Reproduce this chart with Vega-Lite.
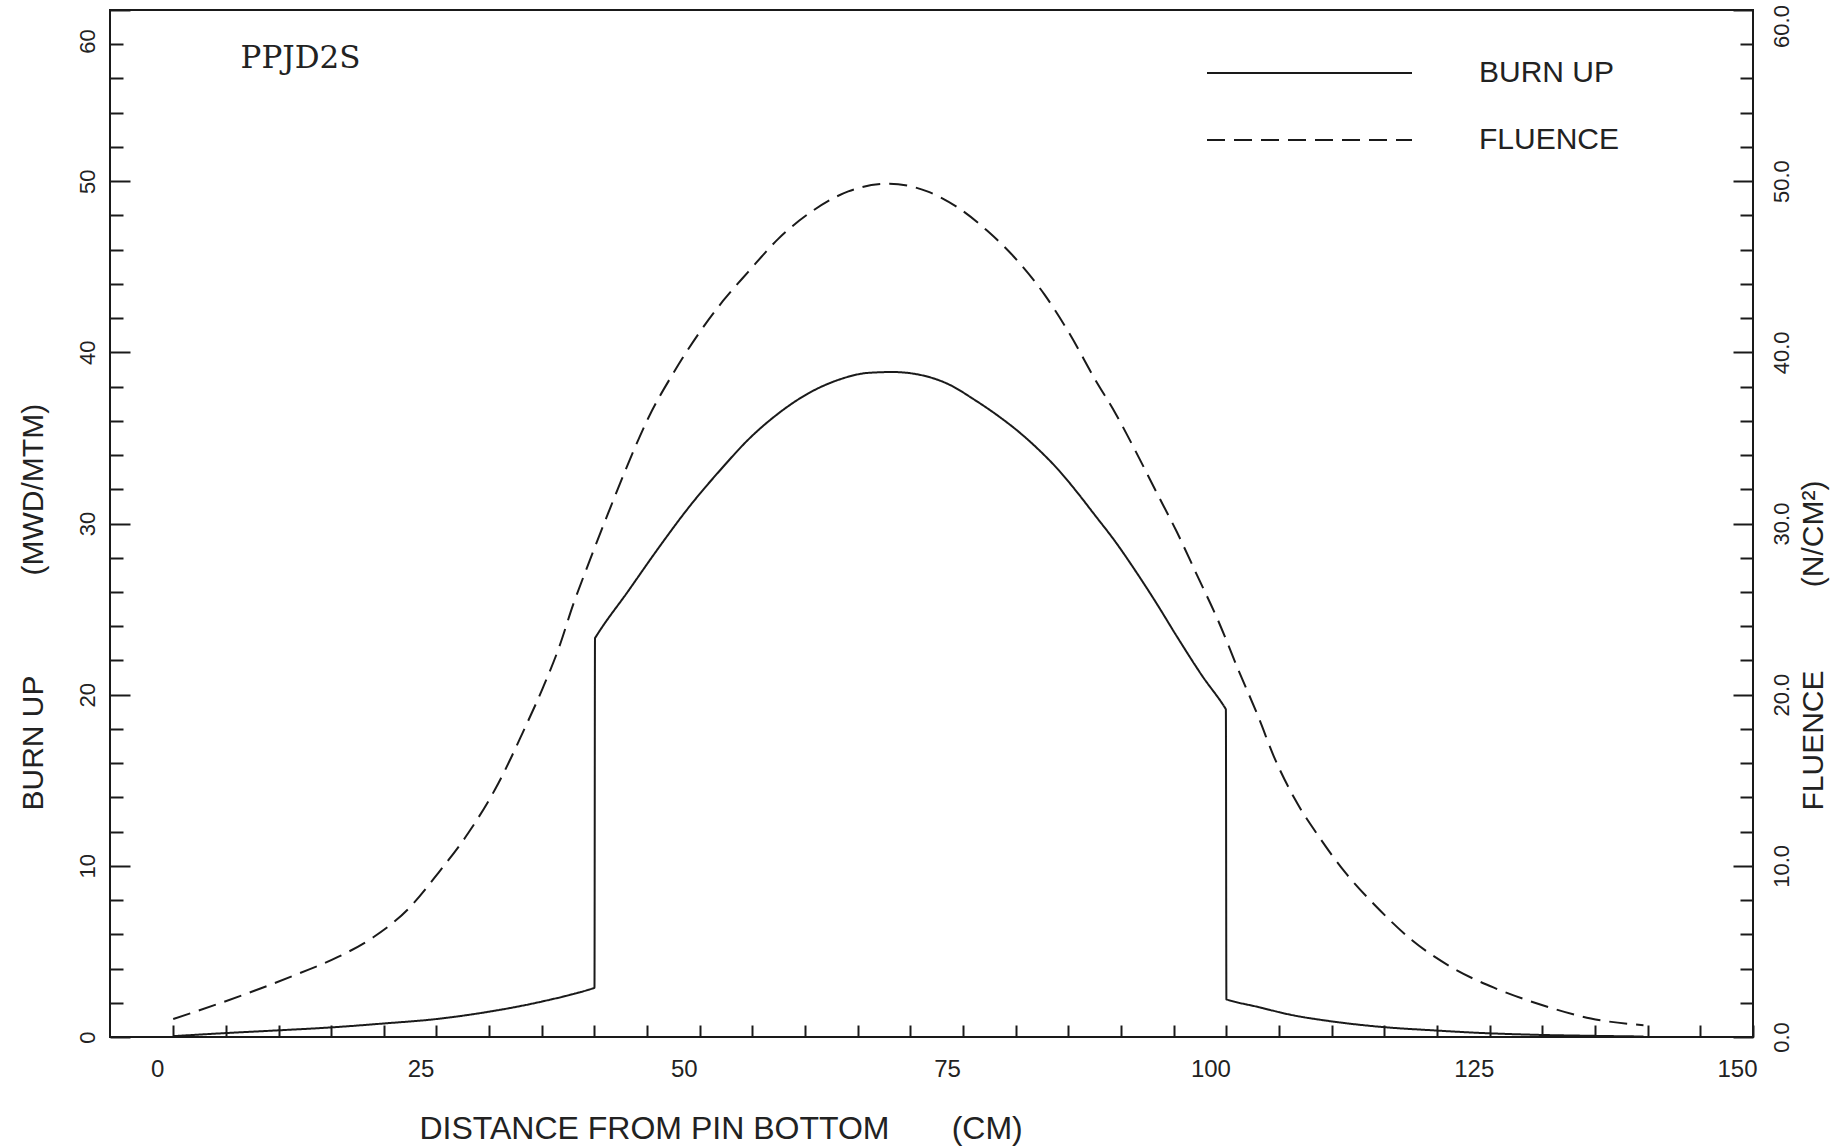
{
  "$schema": "https://vega.github.io/schema/vega-lite/v6.json",
  "width": 1643,
  "height": 1027,
  "autosize": {"type": "none"},
  "padding": {"left": 110, "top": 10, "right": 88, "bottom": 110},
  "background": "white",
  "datasets": {
    "curves": [
      {"series": "BURN UP", "x": 0, "y": 0.05},
      {"series": "BURN UP", "x": 5, "y": 0.23},
      {"series": "BURN UP", "x": 10, "y": 0.39},
      {"series": "BURN UP", "x": 15, "y": 0.56},
      {"series": "BURN UP", "x": 20, "y": 0.79},
      {"series": "BURN UP", "x": 25, "y": 1.05},
      {"series": "BURN UP", "x": 30, "y": 1.48},
      {"series": "BURN UP", "x": 35, "y": 2.07},
      {"series": "BURN UP", "x": 39.95, "y": 2.86},
      {"series": "BURN UP", "x": 40, "y": 2.87},
      {"series": "BURN UP", "x": 40.05, "y": 23.3},
      {"series": "BURN UP", "x": 40.1, "y": 23.35},
      {"series": "BURN UP", "x": 43.2, "y": 26.05},
      {"series": "BURN UP", "x": 46.0, "y": 28.5},
      {"series": "BURN UP", "x": 48.9, "y": 30.9},
      {"series": "BURN UP", "x": 52.2, "y": 33.3},
      {"series": "BURN UP", "x": 54.6, "y": 34.9},
      {"series": "BURN UP", "x": 57.4, "y": 36.4},
      {"series": "BURN UP", "x": 60.3, "y": 37.6},
      {"series": "BURN UP", "x": 63.2, "y": 38.4},
      {"series": "BURN UP", "x": 66.0, "y": 38.8},
      {"series": "BURN UP", "x": 68.3, "y": 38.85},
      {"series": "BURN UP", "x": 71.5, "y": 38.6},
      {"series": "BURN UP", "x": 73.9, "y": 38.05},
      {"series": "BURN UP", "x": 75.9, "y": 37.3},
      {"series": "BURN UP", "x": 78.3, "y": 36.3},
      {"series": "BURN UP", "x": 80.2, "y": 35.4},
      {"series": "BURN UP", "x": 82.2, "y": 34.3},
      {"series": "BURN UP", "x": 84.1, "y": 33.1},
      {"series": "BURN UP", "x": 85.6, "y": 32.0},
      {"series": "BURN UP", "x": 87.5, "y": 30.5},
      {"series": "BURN UP", "x": 89.5, "y": 28.9},
      {"series": "BURN UP", "x": 91.4, "y": 27.2},
      {"series": "BURN UP", "x": 93.3, "y": 25.4},
      {"series": "BURN UP", "x": 95.3, "y": 23.4},
      {"series": "BURN UP", "x": 97.7, "y": 21.1},
      {"series": "BURN UP", "x": 99.9, "y": 19.2},
      {"series": "BURN UP", "x": 99.95, "y": 19.15},
      {"series": "BURN UP", "x": 100, "y": 2.2},
      {"series": "BURN UP", "x": 100.05, "y": 2.19},
      {"series": "BURN UP", "x": 103.1, "y": 1.74},
      {"series": "BURN UP", "x": 106.0, "y": 1.31},
      {"series": "BURN UP", "x": 109.9, "y": 0.92},
      {"series": "BURN UP", "x": 114.7, "y": 0.59},
      {"series": "BURN UP", "x": 119.6, "y": 0.39},
      {"series": "BURN UP", "x": 124.4, "y": 0.23},
      {"series": "BURN UP", "x": 129.3, "y": 0.13},
      {"series": "BURN UP", "x": 134.6, "y": 0.07},
      {"series": "BURN UP", "x": 139.6, "y": 0.03},
      {"series": "FLUENCE", "x": 0, "y": 1.05},
      {"series": "FLUENCE", "x": 7.1, "y": 2.56},
      {"series": "FLUENCE", "x": 11.9, "y": 3.7},
      {"series": "FLUENCE", "x": 15.7, "y": 4.69},
      {"series": "FLUENCE", "x": 19.0, "y": 5.83},
      {"series": "FLUENCE", "x": 22.3, "y": 7.47},
      {"series": "FLUENCE", "x": 25.2, "y": 9.61},
      {"series": "FLUENCE", "x": 28.0, "y": 11.9},
      {"series": "FLUENCE", "x": 30.9, "y": 14.85},
      {"series": "FLUENCE", "x": 33.2, "y": 17.8},
      {"series": "FLUENCE", "x": 35.1, "y": 20.4},
      {"series": "FLUENCE", "x": 36.6, "y": 22.7},
      {"series": "FLUENCE", "x": 38.0, "y": 25.3},
      {"series": "FLUENCE", "x": 39.4, "y": 27.6},
      {"series": "FLUENCE", "x": 41.3, "y": 30.6},
      {"series": "FLUENCE", "x": 43.2, "y": 33.5},
      {"series": "FLUENCE", "x": 45.1, "y": 36.15},
      {"series": "FLUENCE", "x": 47.5, "y": 38.8},
      {"series": "FLUENCE", "x": 49.9, "y": 41.1},
      {"series": "FLUENCE", "x": 52.2, "y": 43.0},
      {"series": "FLUENCE", "x": 54.6, "y": 44.7},
      {"series": "FLUENCE", "x": 57.4, "y": 46.6},
      {"series": "FLUENCE", "x": 60.8, "y": 48.3},
      {"series": "FLUENCE", "x": 64.1, "y": 49.4},
      {"series": "FLUENCE", "x": 68.0, "y": 49.85},
      {"series": "FLUENCE", "x": 71.6, "y": 49.4},
      {"series": "FLUENCE", "x": 74.4, "y": 48.5},
      {"series": "FLUENCE", "x": 77.3, "y": 47.1},
      {"series": "FLUENCE", "x": 79.8, "y": 45.6},
      {"series": "FLUENCE", "x": 82.7, "y": 43.4},
      {"series": "FLUENCE", "x": 85.1, "y": 41.1},
      {"series": "FLUENCE", "x": 87.5, "y": 38.45},
      {"series": "FLUENCE", "x": 89.5, "y": 36.4},
      {"series": "FLUENCE", "x": 91.4, "y": 34.2},
      {"series": "FLUENCE", "x": 93.3, "y": 31.9},
      {"series": "FLUENCE", "x": 95.3, "y": 29.5},
      {"series": "FLUENCE", "x": 97.2, "y": 27.0},
      {"series": "FLUENCE", "x": 99.2, "y": 24.35},
      {"series": "FLUENCE", "x": 101.1, "y": 21.5},
      {"series": "FLUENCE", "x": 103.1, "y": 18.6},
      {"series": "FLUENCE", "x": 104.5, "y": 16.4},
      {"series": "FLUENCE", "x": 106.5, "y": 13.9},
      {"series": "FLUENCE", "x": 108.9, "y": 11.6},
      {"series": "FLUENCE", "x": 111.3, "y": 9.6},
      {"series": "FLUENCE", "x": 114.2, "y": 7.64},
      {"series": "FLUENCE", "x": 117.6, "y": 5.67},
      {"series": "FLUENCE", "x": 121.5, "y": 4.03},
      {"series": "FLUENCE", "x": 125.4, "y": 2.88},
      {"series": "FLUENCE", "x": 129.8, "y": 1.9},
      {"series": "FLUENCE", "x": 134.6, "y": 1.08},
      {"series": "FLUENCE", "x": 139.6, "y": 0.69}
    ]
  },
  "data": {"name": "curves"},
  "layer": [
    {
      "transform": [{"filter": "datum.series === 'BURN UP'"}],
      "mark": {"type": "line", "color": "#1a1a1a", "strokeWidth": 2, "strokeJoin": "round", "interpolate": "monotone"},
      "encoding": {
        "x": {
          "field": "x", "type": "quantitative",
          "scale": {"domain": [-6, 150], "nice": false, "zero": false},
          "axis": {
            "title": "DISTANCE FROM PIN BOTTOM\u00a0\u00a0\u00a0\u00a0\u00a0\u00a0\u00a0(CM)",
            "values": [0,5,10,15,20,25,30,35,40,45,50,55,60,65,70,75,80,85,90,95,100,105,110,115,120,125,130,135,140,145,150],
            "labelExpr": "datum.value % 25 === 0 ? datum.label : ''",
            "tickSize": -12,
            "labelPadding": 32,
            "labelOffset": -16,
            "labelFlush": false,
            "labelOverlap": false,
            "labelFont": "Liberation Sans",
            "labelFontSize": 24,
            "labelBaseline": "top",
            "titleFont": "Liberation Sans",
            "titleFontSize": 32,
            "titleAlign": "left",
            "titleAnchor": "start",
            "titleX": 309,
            "titleY": 101,
            "titleBaseline": "alphabetic"
          }
        },
        "y": {
          "field": "y", "type": "quantitative",
          "scale": {"domain": [0, 60], "nice": false},
          "axis": {
            "orient": "left",
            "title": "BURN UP\u00a0\u00a0\u00a0\u00a0\u00a0\u00a0\u00a0\u00a0\u00a0\u00a0\u00a0\u00a0(MWD/MTM)",
            "values": [0,2,4,6,8,10,12,14,16,18,20,22,24,26,28,30,32,34,36,38,40,42,44,46,48,50,52,54,56,58,60],
            "labelExpr": "datum.value % 10 === 0 ? datum.label : ''",
            "tickSize": {"condition": {"test": "datum.value % 10 === 0", "value": -20}, "value": -13},
            "labelPadding": 36,
            "labelOffset": {"condition": {"test": "datum.value === 60", "value": 31}, "value": 0},
            "labelAngle": -90,
            "labelAlign": "center",
            "labelBaseline": "alphabetic",
            "labelOverlap": false,
            "labelFlush": false,
            "labelFont": "Liberation Sans",
            "labelFontSize": 22,
            "titleFont": "Liberation Sans",
            "titleFontSize": 30,
            "titleAngle": -90,
            "titleAlign": "left",
            "titleBaseline": "alphabetic",
            "titleX": -68,
            "titleY": 800
          }
        },
        "strokeDash": {
          "field": "series", "type": "nominal",
          "scale": {"domain": ["BURN UP", "FLUENCE"], "range": [[1, 0], [18, 9]]},
          "legend": {
            "orient": "none", "legendX": 1096, "legendY": 48, "title": null,
            "symbolType": "M-1,0H1", "symbolSize": 42025, "symbolStrokeWidth": 2,
            "symbolStrokeColor": "#1a1a1a", "symbolFillColor": "transparent",
            "labelFont": "Liberation Sans", "labelFontSize": 30, "labelColor": "#222222",
            "labelOffset": 66, "clipHeight": 30, "rowPadding": 37, "padding": 0
          }
        },
        "order": {"value": null}
      }
    },
    {
      "transform": [{"filter": "datum.series === 'FLUENCE'"}],
      "mark": {"type": "line", "color": "#1a1a1a", "strokeWidth": 2, "strokeJoin": "round", "interpolate": "monotone"},
      "encoding": {
        "x": {"field": "x", "type": "quantitative"},
        "y": {
          "field": "y", "type": "quantitative",
          "scale": {"domain": [0, 60], "nice": false},
          "axis": {
            "orient": "right",
            "title": "FLUENCE\u00a0\u00a0\u00a0\u00a0\u00a0\u00a0\u00a0\u00a0\u00a0\u00a0(N/CM\u00b2)",
            "values": [0,2,4,6,8,10,12,14,16,18,20,22,24,26,28,30,32,34,36,38,40,42,44,46,48,50,52,54,56,58,60],
            "labelExpr": "datum.value % 10 === 0 ? format(datum.value, '.1f') : ''",
            "tickSize": {"condition": {"test": "datum.value % 10 === 0", "value": -20}, "value": -13},
            "labelPadding": 55,
            "labelOffset": {"condition": {"test": "datum.value === 60", "value": 16}, "value": 0},
            "labelAngle": -90,
            "labelAlign": "center",
            "labelBaseline": "alphabetic",
            "labelOverlap": false,
            "labelFlush": false,
            "labelFont": "Liberation Sans",
            "labelFontSize": 22,
            "titleFont": "Liberation Sans",
            "titleFontSize": 30,
            "titleAngle": -90,
            "titleAlign": "left",
            "titleBaseline": "alphabetic",
            "titleX": 69,
            "titleY": 800
          }
        },
        "strokeDash": {"field": "series", "type": "nominal"},
        "order": {"value": null}
      }
    },
    {
      "data": {"values": [{}]},
      "mark": {"type": "text", "text": "PPJD2S", "font": "DejaVu Serif", "fontSize": 31, "align": "left", "baseline": "alphabetic", "color": "#222222"},
      "encoding": {
        "x": {"datum": 6.4, "type": "quantitative"},
        "y": {"datum": 56.6, "type": "quantitative", "scale": {"domain": [0, 60], "nice": false}, "axis": null}
      }
    }
  ],
  "resolve": {"scale": {"y": "independent"}, "axis": {"y": "independent"}},
  "config": {
    "view": {"stroke": "#1a1a1a", "strokeWidth": 2},
    "font": "Liberation Sans",
    "axis": {"domain": false, "grid": false, "tickColor": "#1a1a1a", "tickWidth": 2, "labelColor": "#222222", "titleColor": "#222222", "titleFontWeight": "normal"}
  }
}
